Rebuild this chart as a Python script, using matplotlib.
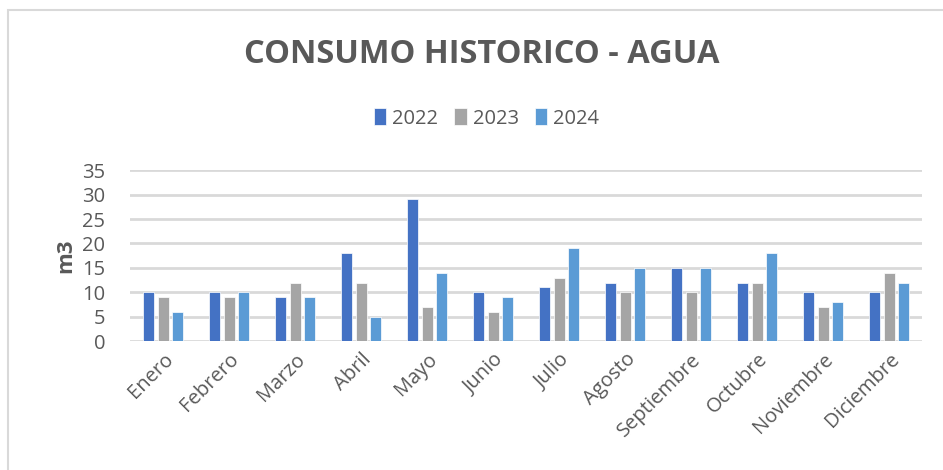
import numpy as np
import matplotlib.pyplot as plt
from matplotlib.patches import Rectangle

months = ['Enero', 'Febrero', 'Marzo', 'Abril', 'Mayo', 'Junio', 'Julio',
          'Agosto', 'Septiembre', 'Octubre', 'Noviembre', 'Diciembre']
years = ['2022', '2023', '2024']
v2022 = [10, 10, 9, 18, 29, 10, 11, 12, 15, 12, 10, 10]
v2023 = [9, 9, 12, 12, 7, 6, 13, 10, 10, 12, 7, 14]
v2024 = [6, 10, 9, 5, 14, 9, 19, 15, 15, 18, 8, 12]
colors = ['#4472C4', '#A5A5A5', '#5B9BD5']

plt.rcParams['font.family'] = ['Open Sans', 'DejaVu Sans']
grey = '#595959'

fig = plt.figure(figsize=(9.43, 4.70), dpi=100)
fig.patches.append(Rectangle((8 / 943, -0.01), 1.0, 1 - 10 / 470 + 0.01,
                             transform=fig.transFigure, fill=False,
                             edgecolor='#D9D9D9', linewidth=1.5))

ax = fig.add_axes([0.138, 0.274, 0.840, 0.364])
x = np.arange(len(months))
w = 0.17
for i, (vals, lab) in enumerate(zip([v2022, v2023, v2024], years)):
    ax.bar(x + (i - 1) * 0.22, vals, width=w, color=colors[i], label=lab,
           edgecolor='white', linewidth=0.5, zorder=3)

ax.set_ylim(0, 35)
ax.set_xlim(-0.5, len(months) - 0.5)
ax.set_yticks(range(0, 36, 5))
ax.yaxis.grid(True, color='#D9D9D9', linewidth=2, zorder=0)
for s in ax.spines.values():
    s.set_visible(False)
ax.tick_params(axis='both', length=0, colors=grey, labelsize=14.5)
ax.tick_params(axis='y', pad=18)
ax.tick_params(axis='x', pad=6)
ax.set_xticks(x)
ax.set_xticklabels(months, rotation=45, ha='right', rotation_mode='anchor')
ax.set_ylabel('m3', fontsize=16, color=grey, fontweight='bold', labelpad=4)

fig.text(0.511, 0.885, 'CONSUMO HISTORICO - AGUA', ha='center', va='center',
         fontsize=23.5, fontweight='bold', color=grey)
fig.legend(loc='center', bbox_to_anchor=(0.516, 0.748), ncol=3, frameon=False,
           fontsize=14.5, handlelength=0.6, handleheight=0.9, handletextpad=0.3,
           columnspacing=0.8, labelcolor=grey)

fig.savefig('out.png', dpi=100)
